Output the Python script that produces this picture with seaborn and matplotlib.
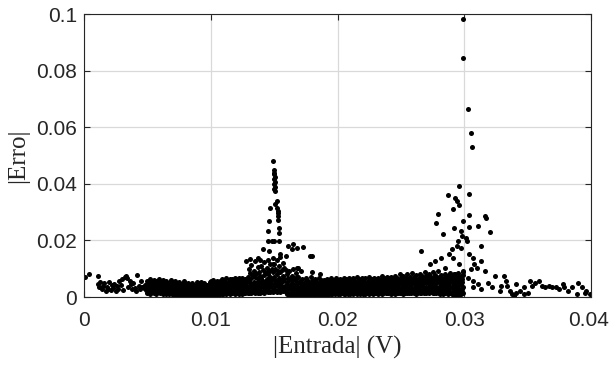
import numpy as np
import matplotlib
matplotlib.use('Agg')
import matplotlib.pyplot as plt
import matplotlib.transforms as mtransforms
import pandas as pd
import seaborn as sns

sns.set_style("ticks")
plt.rcParams['font.family'] = ['Liberation Sans', 'DejaVu Sans']

''' DATA READ FROM THE FIGURE
'''
# sparse points at the far left (0 - 0.005 V)
left_x = [0.0001, 0.0004, 0.0011, 0.0011, 0.0012, 0.0013, 0.0014, 0.0015, 0.0016, 0.0017,
          0.0018, 0.0019, 0.0020, 0.0021, 0.0022, 0.0023, 0.0024, 0.0025, 0.0026, 0.0027,
          0.0028, 0.0029, 0.0030, 0.0031, 0.0032, 0.0033, 0.0034, 0.0035, 0.0036, 0.0037,
          0.0038, 0.0039, 0.0040, 0.0041, 0.0042, 0.0043, 0.0044, 0.0045, 0.0046, 0.0047,
          0.0048, 0.0049]
left_y = [0.0072, 0.0080, 0.0075, 0.0045, 0.0035, 0.0052, 0.0028, 0.0040, 0.0048, 0.0022,
          0.0036, 0.0030, 0.0052, 0.0025, 0.0041, 0.0033, 0.0047, 0.0020, 0.0038, 0.0029,
          0.0055, 0.0043, 0.0062, 0.0026, 0.0070, 0.0074, 0.0066, 0.0035, 0.0058, 0.0045,
          0.0028, 0.0050, 0.0032, 0.0021, 0.0078, 0.0040, 0.0027, 0.0055, 0.0036, 0.0031,
          0.0044, 0.0024]

# dense band (0.005 - 0.030 V), four layers sharing the same inputs
band_x = [0.0050, 0.0051, 0.0052, 0.0053, 0.0054, 0.0055, 0.0056, 0.0057, 0.0058, 0.0059,
          0.0060, 0.0061, 0.0062, 0.0063, 0.0064, 0.0065, 0.0066, 0.0067, 0.0068, 0.0069,
          0.0070, 0.0071, 0.0072, 0.0073, 0.0074, 0.0075, 0.0076, 0.0077, 0.0078, 0.0079,
          0.0080, 0.0081, 0.0082, 0.0083, 0.0084, 0.0085, 0.0086, 0.0087, 0.0088, 0.0089,
          0.0090, 0.0091, 0.0092, 0.0093, 0.0094, 0.0095, 0.0096, 0.0097, 0.0098, 0.0099,
          0.0100, 0.0101, 0.0102, 0.0103, 0.0104, 0.0105, 0.0106, 0.0107, 0.0108, 0.0109,
          0.0110, 0.0111, 0.0112, 0.0113, 0.0114, 0.0115, 0.0116, 0.0117, 0.0118, 0.0119,
          0.0120, 0.0121, 0.0122, 0.0123, 0.0124, 0.0125, 0.0126, 0.0127, 0.0128, 0.0129,
          0.0130, 0.0131, 0.0132, 0.0133, 0.0134, 0.0135, 0.0136, 0.0137, 0.0138, 0.0139,
          0.0140, 0.0141, 0.0142, 0.0143, 0.0144, 0.0145, 0.0146, 0.0147, 0.0148, 0.0149,
          0.0150, 0.0151, 0.0152, 0.0153, 0.0154, 0.0155, 0.0156, 0.0157, 0.0158, 0.0159,
          0.0160, 0.0161, 0.0162, 0.0163, 0.0164, 0.0165, 0.0166, 0.0167, 0.0168, 0.0169,
          0.0170, 0.0171, 0.0172, 0.0173, 0.0174, 0.0175, 0.0176, 0.0177, 0.0178, 0.0179,
          0.0180, 0.0181, 0.0182, 0.0183, 0.0184, 0.0185, 0.0186, 0.0187, 0.0188, 0.0189,
          0.0190, 0.0191, 0.0192, 0.0193, 0.0194, 0.0195, 0.0196, 0.0197, 0.0198, 0.0199,
          0.0200, 0.0201, 0.0202, 0.0203, 0.0204, 0.0205, 0.0206, 0.0207, 0.0208, 0.0209,
          0.0210, 0.0211, 0.0212, 0.0213, 0.0214, 0.0215, 0.0216, 0.0217, 0.0218, 0.0219,
          0.0220, 0.0221, 0.0222, 0.0223, 0.0224, 0.0225, 0.0226, 0.0227, 0.0228, 0.0229,
          0.0230, 0.0231, 0.0232, 0.0233, 0.0234, 0.0235, 0.0236, 0.0237, 0.0238, 0.0239,
          0.0240, 0.0241, 0.0242, 0.0243, 0.0244, 0.0245, 0.0246, 0.0247, 0.0248, 0.0249,
          0.0250, 0.0251, 0.0252, 0.0253, 0.0254, 0.0255, 0.0256, 0.0257, 0.0258, 0.0259,
          0.0260, 0.0261, 0.0262, 0.0263, 0.0264, 0.0265, 0.0266, 0.0267, 0.0268, 0.0269,
          0.0270, 0.0271, 0.0272, 0.0273, 0.0274, 0.0275, 0.0276, 0.0277, 0.0278, 0.0279,
          0.0280, 0.0281, 0.0282, 0.0283, 0.0284, 0.0285, 0.0286, 0.0287, 0.0288, 0.0289,
          0.0290, 0.0291, 0.0292, 0.0293, 0.0294, 0.0295, 0.0296, 0.0297, 0.0298, 0.0299]
band_y1 = [0.0016, 0.0021, 0.0012, 0.0018, 0.0024, 0.0015, 0.0019, 0.0011, 0.0022, 0.0017,
           0.0014, 0.0020, 0.0009, 0.0016, 0.0023, 0.0012, 0.0018, 0.0010, 0.0015, 0.0021,
           0.0008, 0.0013, 0.0006, 0.0011, 0.0017, 0.0007, 0.0012, 0.0005, 0.0010, 0.0014,
           0.0006, 0.0011, 0.0004, 0.0009, 0.0013, 0.0005, 0.0010, 0.0003, 0.0008, 0.0012,
           0.0007, 0.0004, 0.0010, 0.0006, 0.0003, 0.0009, 0.0005, 0.0011, 0.0004, 0.0008,
           0.0009, 0.0013, 0.0007, 0.0011, 0.0015, 0.0008, 0.0012, 0.0010, 0.0014, 0.0009,
           0.0012, 0.0016, 0.0010, 0.0014, 0.0018, 0.0011, 0.0015, 0.0013, 0.0017, 0.0012,
           0.0013, 0.0017, 0.0011, 0.0015, 0.0019, 0.0012, 0.0016, 0.0014, 0.0018, 0.0013,
           0.0015, 0.0019, 0.0013, 0.0017, 0.0021, 0.0014, 0.0018, 0.0016, 0.0020, 0.0015,
           0.0018, 0.0022, 0.0016, 0.0020, 0.0024, 0.0017, 0.0021, 0.0019, 0.0023, 0.0018,
           0.0020, 0.0025, 0.0018, 0.0023, 0.0028, 0.0019, 0.0024, 0.0021, 0.0026, 0.0017,
           0.0012, 0.0016, 0.0008, 0.0014, 0.0010, 0.0006, 0.0013, 0.0009, 0.0005, 0.0011,
           0.0004, 0.0008, 0.0003, 0.0006, 0.0010, 0.0005, 0.0007, 0.0004, 0.0009, 0.0006,
           0.0007, 0.0011, 0.0006, 0.0009, 0.0013, 0.0008, 0.0010, 0.0007, 0.0012, 0.0009,
           0.0010, 0.0013, 0.0008, 0.0012, 0.0015, 0.0009, 0.0011, 0.0014, 0.0010, 0.0013,
           0.0011, 0.0014, 0.0009, 0.0013, 0.0016, 0.0010, 0.0012, 0.0015, 0.0011, 0.0014,
           0.0012, 0.0015, 0.0010, 0.0014, 0.0017, 0.0011, 0.0013, 0.0016, 0.0012, 0.0015,
           0.0012, 0.0016, 0.0010, 0.0014, 0.0018, 0.0011, 0.0013, 0.0017, 0.0012, 0.0015,
           0.0013, 0.0016, 0.0011, 0.0015, 0.0018, 0.0012, 0.0014, 0.0017, 0.0013, 0.0016,
           0.0013, 0.0017, 0.0011, 0.0015, 0.0019, 0.0012, 0.0014, 0.0018, 0.0013, 0.0016,
           0.0014, 0.0018, 0.0012, 0.0016, 0.0020, 0.0013, 0.0015, 0.0019, 0.0014, 0.0017,
           0.0014, 0.0018, 0.0012, 0.0016, 0.0020, 0.0013, 0.0015, 0.0019, 0.0014, 0.0017,
           0.0015, 0.0019, 0.0013, 0.0017, 0.0021, 0.0014, 0.0016, 0.0020, 0.0015, 0.0018,
           0.0015, 0.0012, 0.0018, 0.0010, 0.0016, 0.0013, 0.0019, 0.0011, 0.0017, 0.0014,
           0.0016, 0.0013, 0.0019, 0.0011, 0.0017, 0.0005, 0.0020, 0.0012, 0.0018, 0.0015]
band_y2 = [0.0031, 0.0027, 0.0034, 0.0029, 0.0025, 0.0033, 0.0028, 0.0036, 0.0026, 0.0030,
           0.0029, 0.0025, 0.0032, 0.0027, 0.0023, 0.0031, 0.0026, 0.0034, 0.0024, 0.0028,
           0.0024, 0.0020, 0.0027, 0.0022, 0.0018, 0.0026, 0.0021, 0.0029, 0.0019, 0.0023,
           0.0022, 0.0018, 0.0025, 0.0020, 0.0016, 0.0024, 0.0019, 0.0027, 0.0017, 0.0021,
           0.0021, 0.0017, 0.0024, 0.0019, 0.0015, 0.0023, 0.0018, 0.0026, 0.0016, 0.0020,
           0.0026, 0.0022, 0.0029, 0.0024, 0.0020, 0.0028, 0.0023, 0.0031, 0.0021, 0.0025,
           0.0030, 0.0026, 0.0033, 0.0028, 0.0024, 0.0032, 0.0027, 0.0035, 0.0025, 0.0029,
           0.0031, 0.0027, 0.0034, 0.0029, 0.0025, 0.0033, 0.0028, 0.0036, 0.0026, 0.0030,
           0.0036, 0.0030, 0.0041, 0.0033, 0.0028, 0.0039, 0.0032, 0.0044, 0.0029, 0.0035,
           0.0042, 0.0035, 0.0048, 0.0038, 0.0032, 0.0045, 0.0037, 0.0050, 0.0034, 0.0040,
           0.0045, 0.0038, 0.0052, 0.0041, 0.0035, 0.0049, 0.0040, 0.0055, 0.0036, 0.0043,
           0.0032, 0.0027, 0.0036, 0.0029, 0.0024, 0.0034, 0.0028, 0.0038, 0.0025, 0.0030,
           0.0022, 0.0018, 0.0025, 0.0020, 0.0016, 0.0024, 0.0019, 0.0027, 0.0017, 0.0021,
           0.0024, 0.0020, 0.0027, 0.0022, 0.0018, 0.0026, 0.0021, 0.0029, 0.0019, 0.0023,
           0.0027, 0.0023, 0.0030, 0.0025, 0.0021, 0.0029, 0.0024, 0.0032, 0.0022, 0.0026,
           0.0028, 0.0024, 0.0031, 0.0026, 0.0022, 0.0030, 0.0025, 0.0033, 0.0023, 0.0027,
           0.0028, 0.0024, 0.0031, 0.0026, 0.0022, 0.0030, 0.0025, 0.0033, 0.0023, 0.0027,
           0.0029, 0.0025, 0.0032, 0.0027, 0.0023, 0.0031, 0.0026, 0.0034, 0.0024, 0.0028,
           0.0030, 0.0026, 0.0033, 0.0028, 0.0024, 0.0032, 0.0027, 0.0035, 0.0025, 0.0029,
           0.0031, 0.0027, 0.0034, 0.0029, 0.0025, 0.0033, 0.0028, 0.0036, 0.0026, 0.0030,
           0.0032, 0.0028, 0.0035, 0.0030, 0.0026, 0.0034, 0.0029, 0.0037, 0.0027, 0.0031,
           0.0033, 0.0029, 0.0036, 0.0031, 0.0027, 0.0035, 0.0030, 0.0038, 0.0028, 0.0032,
           0.0034, 0.0030, 0.0037, 0.0032, 0.0028, 0.0036, 0.0031, 0.0039, 0.0029, 0.0033,
           0.0035, 0.0029, 0.0040, 0.0032, 0.0026, 0.0038, 0.0031, 0.0043, 0.0027, 0.0034,
           0.0036, 0.0028, 0.0042, 0.0031, 0.0025, 0.0040, 0.0030, 0.0046, 0.0027, 0.0034]
band_y3 = [0.0045, 0.0040, 0.0049, 0.0037, 0.0043, 0.0052, 0.0039, 0.0046, 0.0041, 0.0055,
           0.0042, 0.0037, 0.0047, 0.0035, 0.0040, 0.0050, 0.0036, 0.0044, 0.0039, 0.0053,
           0.0036, 0.0031, 0.0041, 0.0029, 0.0034, 0.0044, 0.0030, 0.0038, 0.0033, 0.0047,
           0.0033, 0.0028, 0.0038, 0.0026, 0.0031, 0.0041, 0.0027, 0.0035, 0.0030, 0.0044,
           0.0034, 0.0029, 0.0039, 0.0027, 0.0032, 0.0042, 0.0028, 0.0036, 0.0031, 0.0045,
           0.0040, 0.0035, 0.0045, 0.0033, 0.0038, 0.0048, 0.0034, 0.0042, 0.0037, 0.0051,
           0.0044, 0.0039, 0.0049, 0.0037, 0.0042, 0.0052, 0.0038, 0.0046, 0.0041, 0.0055,
           0.0046, 0.0041, 0.0051, 0.0039, 0.0044, 0.0054, 0.0040, 0.0048, 0.0043, 0.0058,
           0.0058, 0.0049, 0.0066, 0.0046, 0.0054, 0.0071, 0.0048, 0.0062, 0.0052, 0.0076,
           0.0068, 0.0057, 0.0077, 0.0054, 0.0064, 0.0083, 0.0056, 0.0072, 0.0061, 0.0088,
           0.0072, 0.0060, 0.0081, 0.0057, 0.0067, 0.0090, 0.0059, 0.0076, 0.0064, 0.0095,
           0.0052, 0.0044, 0.0060, 0.0041, 0.0048, 0.0065, 0.0043, 0.0056, 0.0046, 0.0070,
           0.0036, 0.0031, 0.0041, 0.0029, 0.0034, 0.0044, 0.0030, 0.0038, 0.0033, 0.0047,
           0.0038, 0.0033, 0.0043, 0.0031, 0.0036, 0.0046, 0.0032, 0.0040, 0.0035, 0.0049,
           0.0040, 0.0035, 0.0045, 0.0033, 0.0038, 0.0048, 0.0034, 0.0042, 0.0037, 0.0051,
           0.0041, 0.0036, 0.0046, 0.0034, 0.0039, 0.0049, 0.0035, 0.0043, 0.0038, 0.0052,
           0.0042, 0.0037, 0.0047, 0.0035, 0.0040, 0.0050, 0.0036, 0.0044, 0.0039, 0.0053,
           0.0043, 0.0038, 0.0048, 0.0036, 0.0041, 0.0051, 0.0037, 0.0045, 0.0040, 0.0054,
           0.0045, 0.0040, 0.0050, 0.0038, 0.0043, 0.0053, 0.0039, 0.0047, 0.0042, 0.0056,
           0.0047, 0.0042, 0.0052, 0.0040, 0.0045, 0.0055, 0.0041, 0.0049, 0.0044, 0.0058,
           0.0049, 0.0044, 0.0054, 0.0042, 0.0047, 0.0057, 0.0043, 0.0051, 0.0046, 0.0060,
           0.0051, 0.0046, 0.0056, 0.0044, 0.0049, 0.0059, 0.0045, 0.0053, 0.0048, 0.0062,
           0.0053, 0.0048, 0.0058, 0.0046, 0.0051, 0.0061, 0.0047, 0.0055, 0.0050, 0.0064,
           0.0056, 0.0049, 0.0062, 0.0046, 0.0053, 0.0066, 0.0048, 0.0059, 0.0051, 0.0070,
           0.0060, 0.0051, 0.0067, 0.0047, 0.0056, 0.0072, 0.0050, 0.0064, 0.0054, 0.0078]
band_y4 = [0.0058, 0.0050, 0.0062, 0.0047, 0.0055, 0.0060, 0.0044, 0.0057, 0.0052, 0.0063,
           0.0055, 0.0048, 0.0060, 0.0045, 0.0053, 0.0058, 0.0042, 0.0050, 0.0047, 0.0061,
           0.0050, 0.0043, 0.0055, 0.0040, 0.0048, 0.0053, 0.0037, 0.0046, 0.0042, 0.0056,
           0.0046, 0.0039, 0.0051, 0.0036, 0.0044, 0.0049, 0.0033, 0.0042, 0.0038, 0.0052,
           0.0048, 0.0041, 0.0053, 0.0038, 0.0046, 0.0051, 0.0035, 0.0044, 0.0040, 0.0054,
           0.0055, 0.0048, 0.0060, 0.0045, 0.0053, 0.0058, 0.0042, 0.0057, 0.0050, 0.0062,
           0.0060, 0.0053, 0.0066, 0.0050, 0.0058, 0.0064, 0.0047, 0.0062, 0.0055, 0.0068,
           0.0062, 0.0055, 0.0069, 0.0052, 0.0060, 0.0067, 0.0049, 0.0065, 0.0057, 0.0072,
           0.0098, 0.0085, 0.0112, 0.0079, 0.0093, 0.0128, 0.0082, 0.0105, 0.0090, 0.0130,
           0.0110, 0.0094, 0.0125, 0.0088, 0.0103, 0.0132, 0.0091, 0.0118, 0.0100, 0.0138,
           0.0115, 0.0098, 0.0130, 0.0092, 0.0108, 0.0140, 0.0095, 0.0122, 0.0104, 0.0145,
           0.0080, 0.0068, 0.0092, 0.0063, 0.0075, 0.0098, 0.0066, 0.0086, 0.0071, 0.0102,
           0.0055, 0.0048, 0.0062, 0.0045, 0.0052, 0.0066, 0.0047, 0.0058, 0.0050, 0.0070,
           0.0057, 0.0050, 0.0063, 0.0047, 0.0054, 0.0068, 0.0049, 0.0060, 0.0052, 0.0061,
           0.0058, 0.0051, 0.0064, 0.0048, 0.0055, 0.0068, 0.0050, 0.0061, 0.0053, 0.0066,
           0.0059, 0.0052, 0.0065, 0.0049, 0.0056, 0.0069, 0.0051, 0.0062, 0.0054, 0.0067,
           0.0060, 0.0053, 0.0066, 0.0050, 0.0057, 0.0070, 0.0052, 0.0063, 0.0055, 0.0068,
           0.0061, 0.0054, 0.0067, 0.0051, 0.0058, 0.0071, 0.0053, 0.0064, 0.0056, 0.0069,
           0.0063, 0.0056, 0.0069, 0.0053, 0.0060, 0.0073, 0.0055, 0.0066, 0.0058, 0.0071,
           0.0066, 0.0058, 0.0072, 0.0055, 0.0063, 0.0076, 0.0057, 0.0069, 0.0061, 0.0080,
           0.0069, 0.0061, 0.0076, 0.0058, 0.0066, 0.0080, 0.0060, 0.0072, 0.0064, 0.0084,
           0.0072, 0.0064, 0.0079, 0.0061, 0.0069, 0.0083, 0.0063, 0.0075, 0.0067, 0.0088,
           0.0076, 0.0067, 0.0083, 0.0064, 0.0072, 0.0087, 0.0066, 0.0079, 0.0070, 0.0092,
           0.0070, 0.0062, 0.0078, 0.0058, 0.0066, 0.0082, 0.0060, 0.0074, 0.0064, 0.0086,
           0.0072, 0.0063, 0.0080, 0.0059, 0.0068, 0.0085, 0.0061, 0.0076, 0.0065, 0.0090]

# first resonance (around 0.015 V)
peak1_x = [0.0149, 0.0150, 0.0150, 0.0150, 0.0151, 0.0150, 0.0151, 0.0150, 0.0151, 0.0150,
           0.0151, 0.0152, 0.0151, 0.0152, 0.0153, 0.0153, 0.0153, 0.0153, 0.0147, 0.0146,
           0.0145, 0.0154, 0.0154, 0.0145, 0.0148, 0.0150, 0.0154, 0.0141, 0.0146, 0.0161,
           0.0164, 0.0165, 0.0168, 0.0173, 0.0178, 0.0180, 0.0155, 0.0131, 0.0128, 0.0137,
           0.0149, 0.0168, 0.0171, 0.0180, 0.0186]
peak1_y = [0.0481, 0.0449, 0.0440, 0.0433, 0.0425, 0.0417, 0.0408, 0.0398, 0.0390, 0.0382,
           0.0373, 0.0338, 0.0330, 0.0314, 0.0305, 0.0296, 0.0285, 0.0273, 0.0314, 0.0267,
           0.0235, 0.0244, 0.0227, 0.0197, 0.0197, 0.0197, 0.0197, 0.0168, 0.0162, 0.0180,
           0.0168, 0.0186, 0.0174, 0.0176, 0.0145, 0.0145, 0.0151, 0.0133, 0.0127, 0.0139,
           0.0116, 0.0104, 0.0092, 0.0089, 0.0081]

# second resonance (around 0.030 V)
peak2_x = [0.0299, 0.0299, 0.0303, 0.0305, 0.0306, 0.0296, 0.0304, 0.0287, 0.0293, 0.0294,
           0.0296, 0.0291, 0.0279, 0.0304, 0.0316, 0.0317, 0.0278, 0.0299, 0.0283, 0.0292,
           0.0297, 0.0304, 0.0311, 0.0320, 0.0266, 0.0313, 0.0273, 0.0277, 0.0282, 0.0285,
           0.0288, 0.0290, 0.0291, 0.0294, 0.0295, 0.0297, 0.0298, 0.0301, 0.0302, 0.0304,
           0.0307, 0.0308, 0.0310, 0.0313, 0.0316, 0.0305, 0.0303, 0.0299, 0.0296, 0.0293,
           0.0307, 0.0311, 0.0307, 0.0313, 0.0319, 0.0322, 0.0324, 0.0331, 0.0328, 0.0291]
peak2_y = [0.0984, 0.0843, 0.0664, 0.0580, 0.0530, 0.0393, 0.0364, 0.0360, 0.0350, 0.0340,
           0.0324, 0.0310, 0.0294, 0.0290, 0.0285, 0.0280, 0.0260, 0.0268, 0.0223, 0.0244,
           0.0232, 0.0246, 0.0250, 0.0230, 0.0162, 0.0180, 0.0116, 0.0127, 0.0139, 0.0104,
           0.0151, 0.0168, 0.0139, 0.0180, 0.0197, 0.0174, 0.0215, 0.0207, 0.0197, 0.0151,
           0.0139, 0.0116, 0.0104, 0.0127, 0.0092, 0.0098, 0.0069, 0.0092, 0.0116, 0.0081,
           0.0057, 0.0046, 0.0034, 0.0028, 0.0051, 0.0034, 0.0075, 0.0075, 0.0022, 0.0008]

# tail to the right (0.033 - 0.04 V)
tail_x = [0.0334, 0.0336, 0.0338, 0.0341, 0.0344, 0.0347, 0.0352, 0.0353, 0.0356, 0.0359,
          0.0361, 0.0364, 0.0367, 0.0369, 0.0372, 0.0375, 0.0378, 0.0379, 0.0382, 0.0385,
          0.0389, 0.0390, 0.0393, 0.0395, 0.0396, 0.0399, 0.0347, 0.0350, 0.0339, 0.0329,
          0.0333, 0.0341]
tail_y = [0.0040, 0.0022, 0.0010, 0.0046, 0.0022, 0.0034, 0.0057, 0.0040, 0.0051, 0.0055,
          0.0040, 0.0034, 0.0040, 0.0036, 0.0034, 0.0028, 0.0046, 0.0036, 0.0022, 0.0034,
          0.0010, 0.0048, 0.0034, 0.0016, 0.0022, 0.0010, 0.0010, 0.0016, 0.0005, 0.0040,
          0.0057, 0.0016]

''' BUILD ONE TABLE
'''
parts = [pd.DataFrame({'x': left_x, 'y': left_y})]
for band_y in [band_y1, band_y2, band_y3, band_y4]:
    parts.append(pd.DataFrame({'x': band_x, 'y': band_y}))
parts.append(pd.DataFrame({'x': peak1_x, 'y': peak1_y}))
parts.append(pd.DataFrame({'x': peak2_x, 'y': peak2_y}))
parts.append(pd.DataFrame({'x': tail_x, 'y': tail_y}))
df = pd.concat(parts, ignore_index=True)

''' PLOT
'''
fig = plt.figure(figsize=(6.1, 3.69), dpi=100)
ax = fig.add_axes([0.1377, 0.195, 0.8313, 0.767])
ax.grid(True, color='#d9d9d9', linewidth=0.9)
ax.set_axisbelow(True)
sns.scatterplot(x='x', y='y', data=df, color='black', s=13, linewidth=0, ax=ax, legend=False)

ax.set_xlim(0, 0.04)
ax.set_ylim(0, 0.1)
ax.set_xticks([0, 0.01, 0.02, 0.03, 0.04])
ax.set_xticklabels(['0', '0.01', '0.02', '0.03', '0.04'])
ax.set_yticks([0, 0.02, 0.04, 0.06, 0.08, 0.1])
ax.set_yticklabels(['0', '0.02', '0.04', '0.06', '0.08', '0.1'])
ax.tick_params(direction='in', length=4, width=0.8, top=True, right=True, labelsize=15)
ax.tick_params(axis='x', pad=10)
ax.tick_params(axis='y', pad=5)
for sp in ax.spines.values():
    sp.set_linewidth(0.8)
    sp.set_color('#262626')

# nudge the last x label inward so it stays inside the figure
last = ax.get_xticklabels()[-1]
last.set_transform(last.get_transform() + mtransforms.ScaledTranslation(-3 / 100, 0, fig.dpi_scale_trans))

ax.set_xlabel('|Entrada| (V)', fontsize=18, family='Liberation Serif', labelpad=4)
ax.set_ylabel('|Erro|', fontsize=18, family='Liberation Serif', labelpad=5)

fig.savefig('out.png', dpi=100)
